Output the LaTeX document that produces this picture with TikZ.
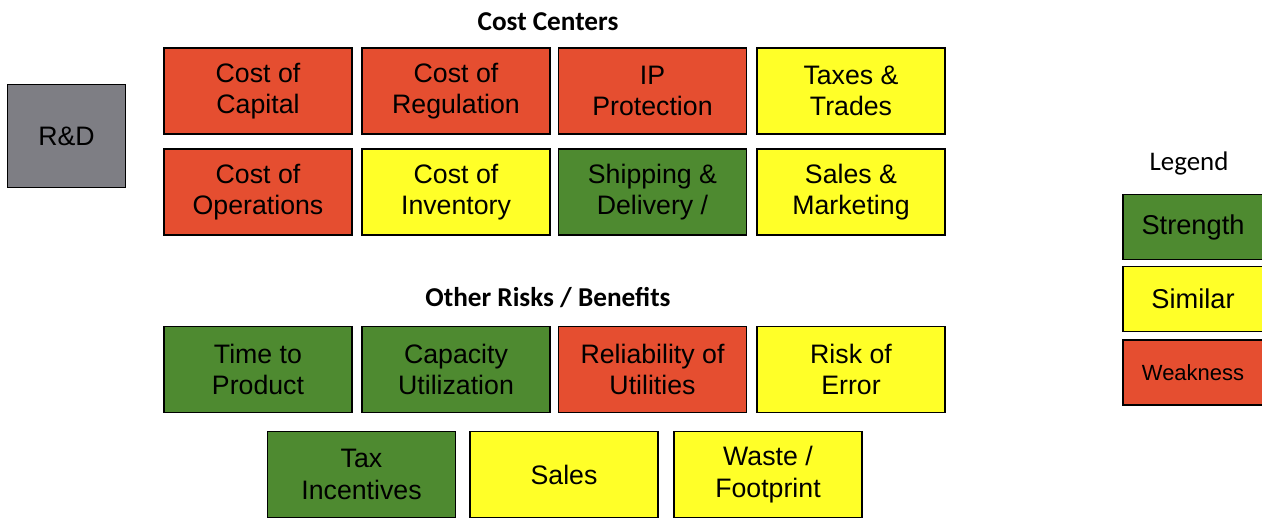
\documentclass[tikz,border=0pt]{standalone}
\usepackage{fontspec}
\setmainfont{Liberation Sans}
\newfontfamily\titlefont{Carlito}
\usepackage{tikz}

\definecolor{weakred}{RGB}{229,78,48}
\definecolor{strongreen}{RGB}{78,138,48}
\definecolor{simyellow}{RGB}{255,255,40}
\definecolor{rdgray}{RGB}{126,126,132}

\begin{document}
\begin{tikzpicture}[x=0.02cm,y=-0.02cm,
                box/.style={rectangle,draw,line width=1.1pt,minimum width=3.76cm,minimum height=1.72cm,
                        align=center,font=\fontsize{15.2}{17.8}\selectfont,inner sep=0pt},
                red/.style={box,fill=weakred},
                green/.style={box,fill=strongreen},
                yellow/.style={box,fill=simyellow},
                key/.style={box,minimum width=2.8cm,minimum height=1.3cm},
                title/.style={font=\titlefont\fontsize{15.3}{18}\selectfont}]
                \clip (0,0) rectangle (1262,518);

                \node[title,font=\titlefont\bfseries\fontsize{15.5}{18}\selectfont] (CC) at (548,22){Cost Centers};
                \node[title,font=\titlefont\bfseries\fontsize{15.5}{18}\selectfont] (ORB) at (548,298){Other Risks / Benefits};
                \node[title] (LEG) at (1189,163){Legend};

                \node[box,fill=rdgray,minimum width=2.36cm,minimum height=2.06cm] (RD) at (66.5,136){R\&D};

                \node[red] (CAP) at (258,91){Cost of\\Capital};
                \node[red] (REG) at (456,91){Cost of\\Regulation};
                \node[red] (IPP) at (652.5,91){IP\\Protection};
                \node[yellow] (TAX) at (851,91){Taxes \&\\Trades};

                \node[red] (OPS) at (258,192){Cost of\\Operations};
                \node[yellow] (INV) at (456,192){Cost of\\Inventory};
                \node[green] (SHP) at (652.5,192){Shipping \&\\Delivery /};
                \node[yellow] (MKT) at (851,192){Sales \&\\Marketing};

                \node[green] (TTP) at (258,369.5){Time to\\Product};
                \node[green] (CAPU) at (456,369.5){Capacity\\Utilization};
                \node[red] (REL) at (652.5,369.5){Reliability of\\Utilities};
                \node[yellow] (ERR) at (851,369.5){Risk of\\Error};

                \node[green] (TAXI) at (361.5,474.5){Tax\\Incentives};
                \node[yellow] (SAL) at (564,474.5){Sales};
                \node[yellow] (WST) at (768,474.5){Waste /\\Footprint};

                \node[key,fill=strongreen,font=\fontsize{15.5}{18}\selectfont] (STR) at (1193,227){Strength};
                \node[key,fill=simyellow,font=\fontsize{15.5}{18}\selectfont] (SIM) at (1193,299){Similar};
                \node[key,fill=weakred,font=\fontsize{12.5}{15}\selectfont] (WEA) at (1193,372.5){Weakness};
        \end{tikzpicture}
\end{document}
